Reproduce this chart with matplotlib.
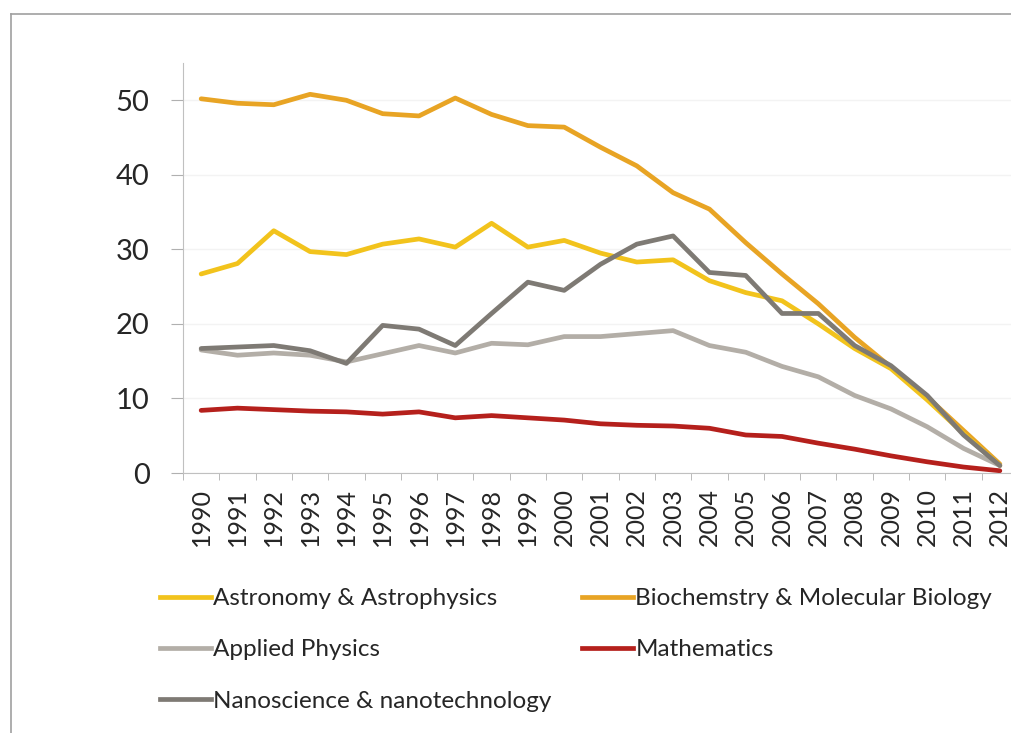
import matplotlib
matplotlib.use('Agg')
import matplotlib.pyplot as plt
from matplotlib.lines import Line2D

years = [str(y) for y in range(1990, 2013)]

astronomy = [26.7, 28.1, 32.5, 29.7, 29.3, 30.7, 31.4, 30.3, 33.5, 30.3, 31.2, 29.5,
             28.3, 28.6, 25.8, 24.2, 23.1, 20.0, 16.7, 14.0, 9.8, 5.3, 1.0]
biochem = [50.2, 49.6, 49.4, 50.8, 50.0, 48.2, 47.9, 50.3, 48.1, 46.6, 46.4, 43.7,
           41.2, 37.6, 35.4, 30.9, 26.7, 22.7, 18.2, 14.2, 10.2, 5.7, 1.2]
applied = [16.5, 15.8, 16.1, 15.8, 14.9, 16.0, 17.1, 16.1, 17.4, 17.2, 18.3, 18.3,
           18.7, 19.1, 17.1, 16.2, 14.3, 12.9, 10.4, 8.6, 6.2, 3.3, 1.0]
maths = [8.4, 8.7, 8.5, 8.3, 8.2, 7.9, 8.2, 7.4, 7.7, 7.4, 7.1, 6.6,
         6.4, 6.3, 6.0, 5.1, 4.9, 4.0, 3.2, 2.3, 1.5, 0.8, 0.3]
nano = [16.7, 16.9, 17.1, 16.4, 14.7, 19.8, 19.3, 17.1, 21.4, 25.6, 24.5, 28.0,
        30.7, 31.8, 26.9, 26.5, 21.4, 21.4, 17.1, 14.4, 10.4, 5.1, 1.0]

series = [
    ('Astronomy & Astrophysics', astronomy, '#f2c31c'),
    ('Applied Physics', applied, '#b3aea7'),
    ('Nanoscience & nanotechnology', nano, '#7e7a74'),
    ('Biochemstry & Molecular Biology', biochem, '#e8a424'),
    ('Mathematics', maths, '#b5201c'),
]

plt.rcParams['font.family'] = ['Lato', 'DejaVu Sans']
txt_col = '#262626'

fig = plt.figure(figsize=(10.12, 7.33), dpi=100)
# outer frame, only left and top edges fall inside the picture
fx, fy = 11.5 / 1012, 1 - 13.5 / 733
fig.add_artist(Line2D([fx, fx], [0, fy], transform=fig.transFigure, color='#a0a0a0', linewidth=1.2))
fig.add_artist(Line2D([fx, 1], [fy, fy], transform=fig.transFigure, color='#a0a0a0', linewidth=1.2))

ax = fig.add_axes([183 / 1012, 260 / 733, 835 / 1012, 410 / 733])
x = list(range(len(years)))
order = [3, 0, 1, 2, 4]
for i in order:
    name, vals, col = series[i]
    ax.plot(x, vals, color=col, linewidth=3.4, solid_capstyle='round', label=name)

ax.set_xlim(-0.5, len(years) - 0.5)
ax.set_ylim(0, 55)
ax.set_yticks([0, 10, 20, 30, 40, 50])
ax.set_xticks(x)
ax.set_xticklabels(years, rotation=90, fontsize=18, color=txt_col)
ax.set_xticks([i - 0.5 for i in range(len(years) + 1)], minor=True)
ax.tick_params(axis='x', which='major', length=0, pad=11)
ax.tick_params(axis='x', which='minor', length=5, color='#b0b0b0')
ax.tick_params(axis='y', length=9, color='#b0b0b0', pad=15, labelsize=21, labelcolor=txt_col)
for s in ['top', 'right']:
    ax.spines[s].set_visible(False)
ax.spines['left'].set_color('#c0c0c0')
ax.spines['bottom'].set_color('#c0c0c0')
ax.grid(axis='y', color='#f3f3f3', linewidth=1)
ax.set_axisbelow(True)

handles = [Line2D([], [], color=c, linewidth=3.4) for _, _, c in series]
labels = [n for n, _, _ in series]
leg_kw = dict(loc='upper left', frameon=False, fontsize=17.5, handlelength=2.1,
              handletextpad=0.1, labelspacing=1.25, borderaxespad=0, borderpad=0)
leg1 = fig.legend(handles[:3], labels[:3], bbox_to_anchor=(160 / 1012, 1 - 588 / 733), **leg_kw)
leg2 = fig.legend(handles[3:], labels[3:], bbox_to_anchor=(582 / 1012, 1 - 588 / 733), **leg_kw)
for lg in (leg1, leg2):
    for t in lg.get_texts():
        t.set_color(txt_col)

fig.savefig('out.png', dpi=100)
